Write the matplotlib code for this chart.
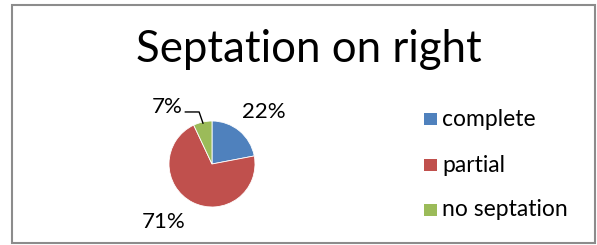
import matplotlib.pyplot as plt
from matplotlib.patches import Rectangle

labels = ["complete", "partial", "no septation"]
values = [22, 71, 7]
colors = ["#4f81bd", "#c0504d", "#9bbb59"]

plt.rcParams['font.family'] = ['Lato', 'DejaVu Sans']

W, H = 597, 245
fig = plt.figure(figsize=(W / 100, H / 100), dpi=100)

# chart frame
fig.patches.append(Rectangle((12 / W, 2 / H), 583 / W, 238 / H, transform=fig.transFigure,
                             fill=False, edgecolor="#8c8c8c", linewidth=1.5))

fig.text(309 / W, 1 - 50 / H, "Septation on right", ha="center", va="center", fontsize=31.5)

# pie: center ~ (212, 164), radius ~ 43 px
r = 43
ax = fig.add_axes([(212 - r) / W, 1 - (164 + r) / H, 2 * r / W, 2 * r / H])
wedges, _ = ax.pie(values, colors=colors, startangle=90, counterclock=False,
                   wedgeprops=dict(linewidth=0.6, edgecolor="white"))
ax.set_xlim(-1, 1)
ax.set_ylim(-1, 1)
ax.set_aspect("equal")

# data labels (complete, partial, no septation)
label_pos = [(1.21, 1.21), (-1.12, -1.35), (-1.05, 1.33)]
for v, (x, y) in zip(values, label_pos):
    ax.text(x, y, f"{v}%", ha="center", va="center", fontsize=16, clip_on=False)
ax.plot([-0.62, -0.30, -0.21], [1.21, 1.21, 0.95], color="black", lw=1, clip_on=False)

# legend
ys = [119, 165, 210]
for lab, c, y in zip(labels, colors, ys):
    fig.patches.append(Rectangle((424 / W, 1 - (y + 6) / H), 13 / W, 12 / H,
                                 transform=fig.transFigure, facecolor=c, edgecolor="none"))
    fig.text(442 / W, 1 - y / H, lab, ha="left", va="center", fontsize=16.5)

fig.savefig("out.png", dpi=100)
